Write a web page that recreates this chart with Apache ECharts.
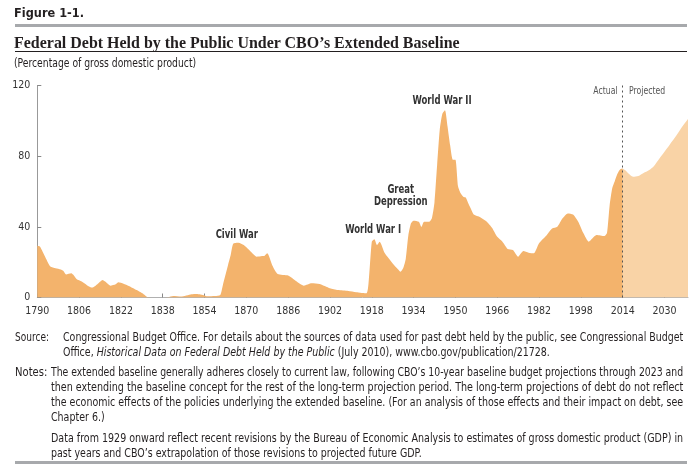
<!DOCTYPE html>
<html>
<head>
<meta charset="utf-8">
<script src="https://cdn.jsdelivr.net/npm/echarts@6/dist/echarts.min.js"></script>
<style>
  html, body { margin:0; padding:0; background:#fff; }
  body { width:691px; height:464px; position:relative; overflow:hidden; color:#231f20;
         font-family:'Liberation Sans Narrow','DejaVu Sans Condensed','Liberation Sans',sans-serif; }
  #chart { position:absolute; left:0; top:0; width:691px; height:464px; }
  .t { position:absolute; white-space:nowrap; line-height:14px; transform-origin:0 50%; font-size:11.5px; }
  .s { left:62.7px; }
  .n { left:50.7px; }
  .rule { position:absolute; left:15px; right:4px; }
  .ann { position:absolute; white-space:nowrap; font-weight:bold; font-size:11.5px; line-height:12px;
         color:#333; text-align:center; }
  .sm { position:absolute; white-space:nowrap; font-size:10.5px; line-height:12px; color:#555; }
</style>
</head>
<body>
<div id="chart"></div>
<div class="t" data-w="70" style="left:14px;top:6px;font-family:'DejaVu Sans',sans-serif;font-weight:bold;font-size:12.5px;">Figure 1-1.</div>
<div class="rule" style="top:24px;height:3px;background:#a7a9ac;"></div>
<div class="t" data-w="446" style="left:14px;top:32px;font-family:'Liberation Serif',serif;font-weight:bold;font-size:17.5px;line-height:20px;">Federal Debt Held by the Public Under CBO’s Extended Baseline</div>
<div class="rule" style="top:51px;height:1px;background:#231f20;"></div>
<div class="t" data-w="182" style="left:14px;top:56px;">(Percentage of gross domestic product)</div>

<div class="t" data-w="34" style="left:15px;top:330px;">Source:</div>
<div class="t s" data-w="620" style="top:330px;">Congressional Budget Office. For details about the sources of data used for past debt held by the public, see Congressional Budget</div>
<div class="t s avg" style="top:345px;">Office, <i>Historical Data on Federal Debt Held by the Public</i> (July 2010), www.cbo.gov/publication/21728.</div>
<div class="t" data-w="32" style="left:15px;top:365px;">Notes:</div>
<div class="t n" data-w="632" style="top:365px;">The extended baseline generally adheres closely to current law, following CBO’s 10-year baseline budget projections through 2023 and</div>
<div class="t n" data-w="632" style="top:380px;">then extending the baseline concept for the rest of the long-term projection period. The long-term projections of debt do not reflect</div>
<div class="t n" data-w="632" style="top:395px;">the economic effects of the policies underlying the extended baseline. (For an analysis of those effects and their impact on debt, see</div>
<div class="t n avg" style="top:410px;">Chapter 6.)</div>
<div class="t n" data-w="632" style="top:431px;">Data from 1929 onward reflect recent revisions by the Bureau of Economic Analysis to estimates of gross domestic product (GDP) in</div>
<div class="t n avg" style="top:446px;">past years and CBO’s extrapolation of those revisions to projected future GDP.</div>
<div class="rule" style="top:461px;height:3px;background:#a7a9ac;"></div>

<script>
// ---- data ----
const tickYears = [1790,1806,1822,1838,1854,1870,1886,1902,1918,1934,1950,1966,1982,1998,2014,2030];
const yTicks = [0,40,80,120];

const actualYears = [1790,1791,1792,1794,1795,1797,1799,1800,1801,1803,1804,1805,1807,1809,1811,1813,1815,1816,1818,1820,1821,1823,1825,1828,1830,1831,1832,1835,1838,1840,1842,1845,1849,1851,1854,1855,1858,1860,1861,1863,1864,1865,1867,1869,1871,1874,1876,1877,1878,1880,1882,1886,1889,1892,1895,1898,1902,1905,1909,1912,1916,1917,1918,1919,1920,1921,1923,1926,1928,1929,1930,1931,1932,1933,1934,1936,1937,1938,1940,1941,1942,1943,1944,1945,1946,1947,1948,1949,1950,1951,1952,1953,1954,1955,1956,1957,1959,1962,1964,1966,1968,1970,1972,1974,1976,1978,1980,1982,1985,1987,1989,1991,1993,1995,1997,1999,2001,2003,2004,2007,2008,2009,2010,2011,2012,2013,2014];
const actualValues = [29.3,28.8,26,20,17.5,16.5,15.8,15,13,13.7,12.5,10.5,9,7,5.6,7.5,9.9,9,6.7,7.5,8.6,7.8,6.5,4.2,2.5,1.5,0.3,0,0,0.2,0.9,0.5,1.8,2,1.2,0.7,0.8,1.4,7,18.4,24,30.5,31,29.7,27,23.1,23.5,23.7,25,18,13.3,12.4,9.3,6.7,8,7.6,5.2,4.2,3.7,3,2.4,12.7,31.6,33,29.7,31.6,25,19.3,16,14.6,16.5,22,35.4,42,43.5,42.9,40,42.9,42.9,44.8,54,75,95,104,106,96.7,86,78,78,63,59,57,56.5,53,50,47,45.8,42.9,39.5,34.4,31.6,27.5,26.9,23.1,26.3,25.4,25,30.7,35.4,39,40,44.8,47.6,47,42.9,36.3,31.6,34.4,35.4,34.8,36.5,52,61.8,66,70,72.5,73];

const projYears = [2014,2015,2016,2018,2020,2022,2024,2026,2028,2030,2032,2034,2036,2039];
const projValues = [73,72,70.5,68.4,68.8,70.5,72,74.5,78.5,82.5,86.5,90.5,95,101];

const eventLabels = ['Civil War','World War I','Great<br>Depression','World War II'];
const eventYears = [1866.5,1918.4,1928.9,1944.9];
const eventValues = [35.9,38.8,58,111.8];
const splitYear = 2014;
const splitLabelValue = 117.4;

// ---- chart ----
const font = "'Liberation Sans Narrow','DejaVu Sans Condensed','Liberation Sans',sans-serif";
const pair = (xs, ys) => xs.map((x, i) => [x, ys[i]]);
const chart = echarts.init(document.getElementById('chart'), null, {renderer:'canvas'});

chart.setOption({
  animation:false,
  grid:{ left:37.3, right:3, top:85.5, bottom:166.5 },
  xAxis:{
    type:'value', min:1790, max:2039,
    axisLine:{ show:true, lineStyle:{ color:'#b0b0b0', width:1 } },
    axisTick:{ show:true, inside:true, length:4, customValues:tickYears, lineStyle:{ color:'#888' } },
    axisLabel:{ customValues:tickYears, formatter:v => String(v), color:'#333', fontFamily:font, fontSize:10.5, margin:8 },
    splitLine:{ show:false }
  },
  yAxis:{
    type:'value', min:0, max:120, interval:40,
    axisLine:{ show:true, lineStyle:{ color:'#999', width:1 } },
    axisTick:{ show:true, inside:true, length:4, lineStyle:{ color:'#888' } },
    axisLabel:{ color:'#333', fontFamily:font, fontSize:10.5, margin:7, customValues:yTicks },
    splitLine:{ show:false }
  },
  series:[
    { type:'line', name:'Actual', data:pair(actualYears, actualValues), smooth:0.2,
      symbol:'none', lineStyle:{ width:0 }, areaStyle:{ color:'#f3b36c', opacity:1 }, z:2,
      markLine:{ silent:true, symbol:'none', label:{ show:false },
                 lineStyle:{ type:[2,3], color:'#555', width:1 }, data:[{ xAxis:splitYear }] }
    },
    { type:'line', name:'Projected', data:pair(projYears, projValues), smooth:0.3,
      symbol:'none', lineStyle:{ width:0 }, areaStyle:{ color:'#f9d3a6', opacity:1 }, z:1 }
  ]
});

// ---- condensed text fitting ----
let rs = [];
document.querySelectorAll('[data-w]').forEach(el => {
  const r = parseFloat(el.dataset.w) / el.scrollWidth;
  el.style.transform = 'scaleX(' + r + ')';
  if (parseFloat(el.dataset.w) > 600) rs.push(r);
});
const avgRatio = rs.reduce((a, b) => a + b, 0) / rs.length;
document.querySelectorAll('.avg').forEach(el => { el.style.transform = 'scaleX(' + avgRatio + ')'; });

// ---- annotations placed through the chart's scales ----
const annRatio = 0.82;
eventLabels.forEach((txt, i) => {
  const p = chart.convertToPixel({ gridIndex:0 }, [eventYears[i], eventValues[i]]);
  const d = document.createElement('div');
  d.className = 'ann'; d.innerHTML = txt;
  document.body.appendChild(d);
  d.style.left = (p[0] - d.offsetWidth / 2) + 'px';
  d.style.top = (p[1] - d.offsetHeight / 2) + 'px';
  d.style.transform = 'scaleX(' + annRatio + ')';
  d.style.transformOrigin = '50% 50%';
});
const sp = chart.convertToPixel({ gridIndex:0 }, [splitYear, splitLabelValue]);
const a = document.createElement('div'); a.className = 'sm'; a.textContent = 'Actual';
document.body.appendChild(a);
a.style.left = (sp[0] - 5 - a.offsetWidth) + 'px'; a.style.top = (sp[1] - 6) + 'px';
a.style.transform = 'scaleX(' + annRatio + ')'; a.style.transformOrigin = '100% 50%';
const b = document.createElement('div'); b.className = 'sm'; b.textContent = 'Projected';
document.body.appendChild(b);
b.style.left = (sp[0] + 6) + 'px'; b.style.top = (sp[1] - 6) + 'px';
b.style.transform = 'scaleX(' + annRatio + ')'; b.style.transformOrigin = '0 50%';
</script>
</body>
</html>
